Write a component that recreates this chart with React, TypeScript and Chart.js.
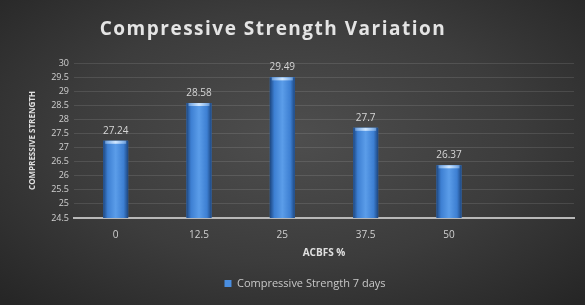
import React, { useEffect, useRef } from "react";
import { Chart, registerables } from "chart.js";

Chart.register(...registerables);

const categories = ["0", "12.5", "25", "37.5", "50", ""];
const strength7Days = [27.24, 28.58, 29.49, 27.7, 26.37, null];
const seriesLabel = "Compressive Strength 7 days";
const titleText = "Compressive Strength Variation";
const xTitle = "ACBFS %";
const yTitle = "COMPRESSIVE STRENGTH";
const yMin = 24.5;
const yMax = 30;
const yStep = 0.5;

const FONT = "'Open Sans', 'DejaVu Sans', sans-serif";

const barStylePlugin = {
  id: "barStyle",
  afterDatasetsDraw(chart: any) {
    const ctx = chart.ctx;
    const area = chart.chartArea;
    const meta = chart.getDatasetMeta(0);
    meta.data.forEach((el: any, i: number) => {
      const v = strength7Days[i];
      if (v == null) return;
      const { x, y, width } = el.getProps(["x", "y", "width"], true);
      const base = area.bottom;
      const l = x - width / 2;
      const r = x + width / 2;
      const g = ctx.createLinearGradient(l, 0, r, 0);
      g.addColorStop(0, "#1d467f");
      g.addColorStop(0.18, "#3d7fd2");
      g.addColorStop(0.5, "#5b9de9");
      g.addColorStop(0.82, "#3d7fd2");
      g.addColorStop(1, "#1d467f");
      ctx.save();
      ctx.fillStyle = g;
      ctx.fillRect(l, y, width, base - y);
      const hg = ctx.createLinearGradient(l, 0, r, 0);
      hg.addColorStop(0, "rgba(160,200,245,0.4)");
      hg.addColorStop(0.5, "rgba(215,235,255,0.95)");
      hg.addColorStop(1, "rgba(160,200,245,0.4)");
      ctx.fillStyle = hg;
      ctx.fillRect(l + 2, y, width - 4, 3);
      ctx.fillStyle = "#d6d6d6";
      ctx.font = `10px ${FONT}`;
      ctx.textAlign = "center";
      ctx.textBaseline = "middle";
      ctx.fillText(String(v), x, y - 10);
      ctx.restore();
    });
  },
};

const titlePlugin = {
  id: "spacedTitle",
  afterDraw(chart: any) {
    const ctx = chart.ctx;
    ctx.save();
    (ctx as any).letterSpacing = "1.5px";
    ctx.fillStyle = "#e4e4e4";
    ctx.font = `bold 19px ${FONT}`;
    ctx.textAlign = "center";
    ctx.textBaseline = "middle";
    ctx.fillText(titleText, 273, 30);
    ctx.restore();
  },
};

export default function App() {
  const canvasRef = useRef<HTMLCanvasElement | null>(null);

  useEffect(() => {
    document.body.style.margin = "0";
    const canvas = canvasRef.current;
    if (!canvas) return;
    const chart = new Chart(canvas, {
      type: "bar",
      data: {
        labels: categories,
        datasets: [
          {
            label: seriesLabel,
            data: strength7Days as any,
            backgroundColor: "#4a8ee0",
            borderWidth: 0,
            barPercentage: 0.3,
            categoryPercentage: 1,
          },
        ],
      },
      options: {
        responsive: false,
        animation: false,
        maintainAspectRatio: false,
        layout: { padding: { left: 36, right: 11, top: 63, bottom: 6 } },
        plugins: {
          title: { display: false },
          legend: {
            display: true,
            position: "bottom",
            labels: {
              color: "#c8c8c8",
              font: { family: FONT, size: 11 },
              boxWidth: 7,
              boxHeight: 7,
              padding: 14,
            },
          },
          tooltip: { enabled: false },
        },
        scales: {
          x: {
            grid: { display: false, drawTicks: false },
            border: { display: true, color: "#b8b8b8", width: 2 },
            ticks: {
              color: "#d0d0d0",
              font: { family: FONT, size: 10 },
              padding: 11,
            },
            title: {
              display: true,
              text: xTitle,
              color: "#e0e0e0",
              font: { family: FONT, size: 10, weight: "bold" },
              padding: { top: 4, bottom: 5 },
            },
            afterFit(scale: any) {
              scale.height = 46;
            },
          },
          y: {
            min: yMin,
            max: yMax,
            grid: { color: "rgba(255,255,255,0.11)", drawTicks: false },
            border: { display: false },
            ticks: {
              stepSize: yStep,
              color: "#d0d0d0",
              font: { family: FONT, size: 9 },
              padding: 5,
              callback: (v: any) => String(Number(v)),
            },
            title: {
              display: true,
              text: yTitle,
              color: "#e0e0e0",
              font: { family: FONT, size: 8, weight: "bold" },
              padding: { top: -8, bottom: 0 },
            },
            afterFit(scale: any) {
              scale.width = 38;
            },
          },
        },
      },
      plugins: [barStylePlugin, titlePlugin],
    });
    return () => chart.destroy();
  }, []);

  return (
    <div
      style={{
        position: "fixed",
        left: 0,
        top: 0,
        width: 585,
        height: 305,
        background:
          "radial-gradient(ellipse 70% 75% at 50% 45%, #4e4e4e 0%, #3c3c3c 55%, #262626 100%)",
      }}
    >
      <canvas ref={canvasRef} width={585} height={305} style={{ display: "block" }} />
    </div>
  );
}
